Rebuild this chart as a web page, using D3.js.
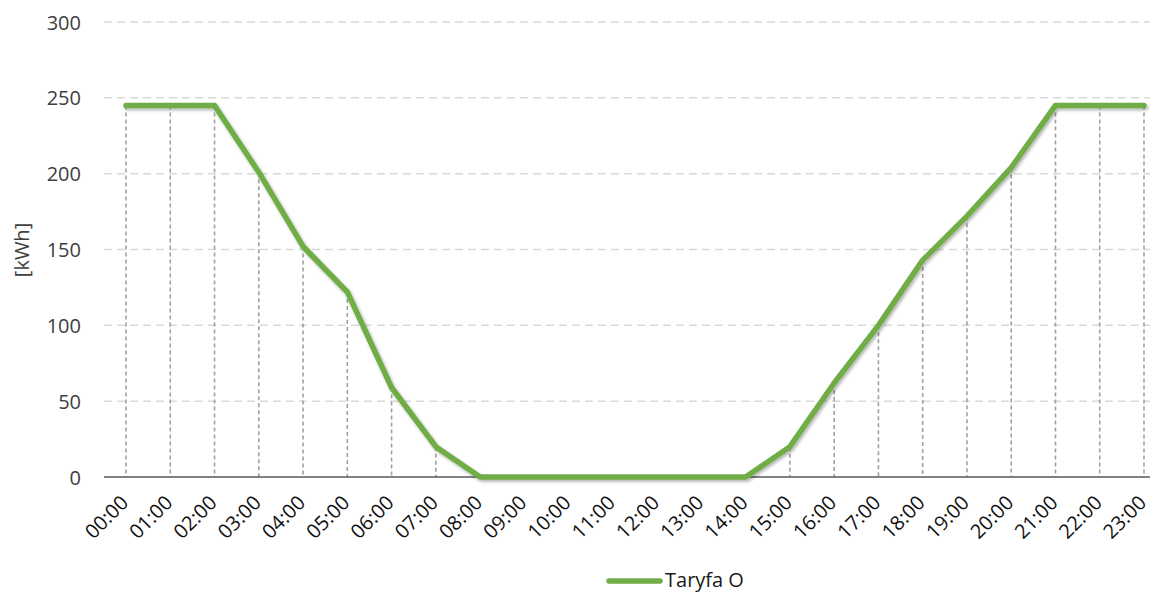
<!DOCTYPE html>
<html><head><meta charset="utf-8">
<script src="https://cdn.jsdelivr.net/npm/d3@7/dist/d3.min.js"></script>
<style>body{margin:0;background:#fff}svg{display:block}text{font-family:"Open Sans","Noto Sans",sans-serif}</style>
</head><body>
<svg id="c" width="1154" height="592"></svg>
<script>
const categories = ["00:00","01:00","02:00","03:00","04:00","05:00","06:00","07:00","08:00","09:00","10:00","11:00","12:00","13:00","14:00","15:00","16:00","17:00","18:00","19:00","20:00","21:00","22:00","23:00"];
const values = [245,245,245,201,152,122,59,20,0,0,0,0,0,0,0,20,62,100,143,172,204,245,245,245];
const yTicks = [0,50,100,150,200,250,300];
const seriesName = "Taryfa O";
const yTitle = "[kWh]";

const svg = d3.select("#c");
const plotL = 104, plotR = 1150, plotT = 22, plotB = 477;
const x = d3.scalePoint().domain(categories).range([126,1144]);
const y = d3.scaleLinear().domain([0,300]).range([plotB, plotT]);

const defs = svg.append("defs");
const f = defs.append("filter").attr("id","sh").attr("x","-5%").attr("y","-5%").attr("width","110%").attr("height","120%");
f.append("feDropShadow").attr("dx",1.5).attr("dy",2).attr("stdDeviation",1.8).attr("flood-color","#000").attr("flood-opacity",0.3);

// gridlines
svg.append("g").selectAll("line").data(yTicks.filter(d=>d>0)).join("line")
  .attr("x1",plotL).attr("x2",plotR).attr("y1",d=>y(d)).attr("y2",d=>y(d))
  .attr("stroke","#d9d9d9").attr("stroke-width",1.5).attr("stroke-dasharray","8,5");

// y axis labels
const yAxis = d3.axisLeft(y).tickValues(yTicks).tickSize(0).tickPadding(0);
const ya = svg.append("g").attr("transform","translate(81,0)").call(yAxis);
ya.select(".domain").remove();
ya.selectAll("text").attr("font-size",20).attr("fill","#404040").attr("font-family","'Open Sans','Noto Sans',sans-serif").attr("dy","0.35em");

// drop lines
svg.append("g").selectAll("line").data(categories).join("line")
  .attr("x1",d=>x(d)).attr("x2",d=>x(d))
  .attr("y1",(d,i)=>y(values[i])).attr("y2",plotB)
  .attr("stroke","#a0a0a0").attr("stroke-width",1.6).attr("stroke-dasharray","4,3");

// x axis
const xAxis = d3.axisBottom(x).tickSize(0).tickPadding(0);
const xa = svg.append("g").attr("transform",`translate(0,${plotB})`).call(xAxis);
xa.select(".domain").remove();
svg.append("line").attr("x1",plotL).attr("x2",plotR).attr("y1",plotB).attr("y2",plotB)
  .attr("stroke","#595959").attr("stroke-width",1.6);
xa.selectAll("text").attr("font-size",20).attr("fill","#111")
  .attr("font-family","'Open Sans','Noto Sans',sans-serif")
  .attr("text-anchor","end").attr("dy",null).attr("y",0)
  .attr("transform","translate(3,27) rotate(-45)");

// line
const line = d3.line().x((d,i)=>x(categories[i])).y(d=>y(d));
svg.append("path").datum(values).attr("d",line)
  .attr("fill","none").attr("stroke","#70ad47").attr("stroke-width",5.5)
  .attr("stroke-linejoin","round").attr("stroke-linecap","round").attr("filter","url(#sh)");

// y title
svg.append("text").attr("transform","translate(29,250) rotate(-90)").attr("text-anchor","middle")
  .attr("font-size",20).attr("fill","#404040").text(yTitle);

// legend
const lg = svg.append("g");
lg.append("line").attr("x1",609).attr("x2",660).attr("y1",581).attr("y2",581)
  .attr("stroke","#70ad47").attr("stroke-width",5.5).attr("stroke-linecap","round");
lg.append("text").attr("x",665).attr("y",587).attr("font-size",20).attr("fill","#1a1a1a").text(seriesName);
</script>
</body></html>
